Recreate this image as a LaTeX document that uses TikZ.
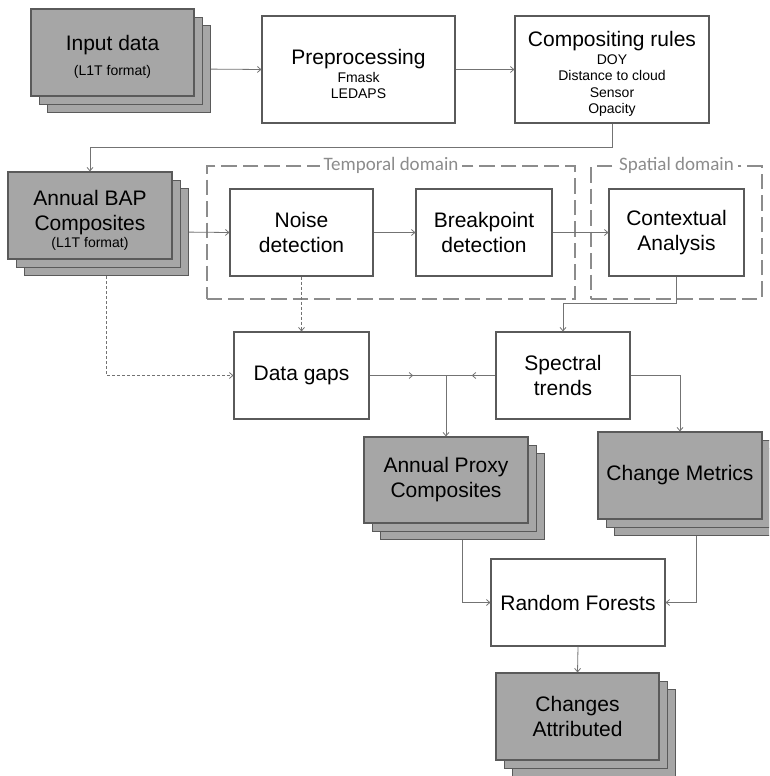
\documentclass[tikz,border=0pt]{standalone}
\usepackage{fontspec}
\setmainfont{Liberation Sans}
\newfontfamily\domainfont{Carlito}
\usetikzlibrary{arrows.meta,shadows,fit,decorations.markings}

\definecolor{stackgray}{RGB}{166,166,166}
\definecolor{boxline}{RGB}{90,90,90}
\definecolor{linkgray}{RGB}{115,115,115}
\definecolor{domaingray}{RGB}{140,140,140}

\newcommand{\bigtxt}{\fontsize{21}{25}\selectfont}
\newcommand{\smalltxt}{\fontsize{14}{16.5}\selectfont}
\newcommand{\topgap}{\rule{0pt}{24pt}}

\begin{document}
\begin{tikzpicture}[x=1pt,y=-1pt,>={Straight Barb[length=3.5pt,width=6pt]},
	box/.style={draw=boxline,line width=1.1pt,fill=white,align=center,font=\bigtxt,minimum height=87pt,inner sep=2pt},
	stack/.style={box,fill=stackgray,
		copy shadow={shadow xshift=16.6pt,shadow yshift=-16.6pt,fill=stackgray,draw=boxline},
		copy shadow={shadow xshift=8.3pt,shadow yshift=-8.3pt,fill=stackgray,draw=boxline}},
	link/.style={draw=linkgray,line width=0.8pt},
	gap link/.style={link,dash pattern=on 3pt off 2pt},
	domain frame/.style={draw=domaingray,line width=2pt,dash pattern=on 15.5pt off 6pt,inner ysep=22pt},
	domain label/.style={fill=white,text=domaingray,font=\domainfont\fontsize{19}{22}\selectfont,inner xsep=4pt,inner ysep=0pt},
	mid arrow/.style={postaction={decorate},decoration={markings,mark=at position #1 with {\arrow{>}}}}]
	\clip (0,0) rectangle (769,776);

	\node[stack,minimum width=163pt] (in) at (112.5,52.5) {\topgap Input data\\{\smalltxt (L1T format)}};
	\node[box,font=\smalltxt,minimum width=193pt,minimum height=107pt] (pre) at (358.5,69.5) {{\bigtxt\topgap Preprocessing}\\[1.5pt]Fmask\\LEDAPS};
	\node[box,font=\smalltxt,minimum width=194pt,minimum height=107pt] (cr) at (612,69.5) {{\bigtxt\topgap Compositing rules}\\[1.5pt]DOY\\Distance to cloud\\Sensor\\Opacity};

	\node[stack,minimum width=164pt] (bap) at (90,215.5) {\topgap Annual BAP\\Composites\\[-8pt]{\smalltxt (L1T format)}};
	\node[box,minimum width=143pt] (nd) at (301.5,232.5) {Noise\\detection};
	\node[box,minimum width=136pt] (bd) at (484,232.5) {Breakpoint\\detection};
	\node[box,minimum width=135pt] (ca) at (676.5,232.5) {Contextual\\Analysis};

	\node[domain frame,fit=(nd)(bd),inner xsep=22.5pt] (tdom) {};
	\node[domain label] (tlab) at (tdom.north) {Temporal domain};
	\node[domain frame,fit=(ca),inner xsep=17pt] (sdom) {};
	\node[domain label] (slab) at (sdom.north) {Spatial domain};

	\node[box,minimum width=135pt] (dg) at (301.5,375.5) {Data gaps};
	\node[box,minimum width=134pt] (st) at (563,375.5) {Spectral\\trends};

	\node[stack,minimum width=164pt,minimum height=86pt] (prox) at (446,480) {Annual Proxy\\Composites};
	\node[stack,minimum width=164pt] (cm) at (680,475.5) {Change Metrics};
	\node[box,minimum width=174pt] (rf) at (578,602.5) {Random Forests};
	\node[stack,minimum width=163pt] (chg) at (577.5,716.5) {Changes\\Attributed};

	% top row
	\draw[link,->] ([shift={(16.6,16.6)}]in.east) -- (pre.west);
	\draw[link,->] (pre.east) -- (cr.west);
	\draw[link,->] (cr.south) -- ++(0,24) -| (bap.north);

	% temporal and spatial steps
	\draw[link,->] ([shift={(16.6,16.6)}]bap.east) -- (nd.west);
	\draw[link,->] (nd.east) -- (bd.west);
	\draw[link,->] (bd.east) -- (ca.west);
	\draw[link,->] (ca.south) -- ++(0,27) -| (st.north);

	% gaps
	\draw[gap link,->] (nd.south) -- (dg.north);
	\draw[gap link,->] ([shift={(16.6,16.6)}]bap.south) |- (dg.west);

	\coordinate (junc) at (prox.north |- dg.east);
	\draw[link,mid arrow=0.57] (dg.east) -- (junc);
	\draw[link,mid arrow=0.48] (st.west) -- (junc);
	\draw[link,->] (junc) -- (prox.north);
	\draw[link,->] (st.east) -| (cm.north);

	% classification
	\draw[link,->] ([shift={(16.6,16.6)}]prox.south) |- (rf.west);
	\draw[link,->] ([shift={(16.6,16.6)}]cm.south) |- (rf.east);
	\draw[link,->] (rf.south) -- (chg.north);
\end{tikzpicture}
\end{document}
